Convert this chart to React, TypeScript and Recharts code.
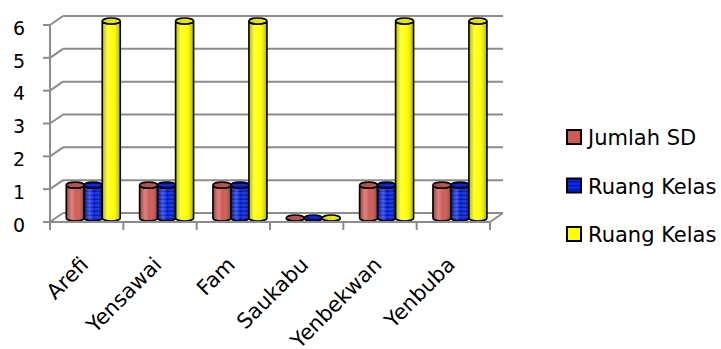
import { BarChart, Bar, XAxis, YAxis, CartesianGrid } from 'recharts';

const categories = ['Arefi', 'Yensawai', 'Fam', 'Saukabu', 'Yenbekwan', 'Yenbuba'];
const jumlahSD = [1, 1, 1, 0, 1, 1];
const ruangKelasA = [1, 1, 1, 0, 1, 1];
const ruangKelasB = [6, 6, 6, 0, 6, 6];
const yTicks = [0, 1, 2, 3, 4, 5, 6];

const seriesInfo = [
  { key: 'jumlahSD', name: 'Jumlah SD', fill: '#d05a55', legendFill: '#d05a55' },
  { key: 'ruangKelasA', name: 'Ruang Kelas', fill: 'url(#blueStripes)', legendFill: 'url(#blueStripesLegend)' },
  { key: 'ruangKelasB', name: 'Ruang Kelas', fill: '#ffff00', legendFill: '#ffff00' },
];

const data = categories.map((name, i) => ({
  name,
  jumlahSD: jumlahSD[i],
  ruangKelasA: ruangKelasA[i],
  ruangKelasB: ruangKelasB[i],
}));

// depth offset of the back wall
const DX = 13;
const DY = -9;
const GRID = '#8c8c8c';
const FONT = '"DejaVu Sans", "Open Sans", sans-serif';

const gridLine = (props: any) => {
  const { x1, y1, x2, y2 } = props;
  return (
    <g key={`g-${y1}`}>
      <line x1={x1} y1={y1} x2={x1 + DX} y2={y1 + DY} stroke={GRID} strokeWidth={2} />
      <line x1={x1 + DX} y1={y1 + DY} x2={x2 + DX} y2={y2 + DY} stroke={GRID} strokeWidth={2} />
    </g>
  );
};

const XTick = (props: any) => {
  const { x, y, payload, index } = props;
  const off = payload.offset || 0;
  const last = index === categories.length - 1;
  const tx = x + 3;
  const ty = y + 44;
  return (
    <g>
      <line x1={x - off} y1={y} x2={x - off} y2={y + 8} stroke={GRID} strokeWidth={2} />
      {last && (
        <>
          <line x1={x + off} y1={y} x2={x + off} y2={y + 8} stroke={GRID} strokeWidth={2} />
          <line x1={x + off} y1={y} x2={x + off + DX} y2={y + DY} stroke={GRID} strokeWidth={2} />
        </>
      )}
      <text
        x={tx}
        y={ty}
        transform={`rotate(-45, ${tx}, ${ty})`}
        textAnchor="end"
        fontSize={21}
        fontFamily={FONT}
        fill="#000"
      >
        {payload.value}
      </text>
    </g>
  );
};

const Cylinder = (props: any) => {
  const { x, y, width, height, fill } = props;
  if (x == null || y == null) return null;
  const sx = 6;
  const sy = -4;
  const left = x + sx;
  const right = x + width + sx;
  const top = y + sy;
  const bottom = y + height + sy;
  const rx = width / 2;
  const ry = 3;
  const cx = left + rx;
  const body = `M${left},${top} L${left},${bottom} A${rx},${ry} 0 0 0 ${right},${bottom} L${right},${top} A${rx},${ry} 0 0 1 ${left},${top} Z`;
  return (
    <g>
      <path d={body} fill={fill} stroke="none" />
      <path d={body} fill="url(#cylShade)" stroke="#000" strokeWidth={1.6} />
      <ellipse cx={cx} cy={top} rx={rx} ry={ry} fill={fill} stroke="#000" strokeWidth={1.6} />
      <ellipse cx={cx} cy={top} rx={rx} ry={ry} fill="url(#topShade)" stroke="none" />
    </g>
  );
};

const LegendBox = () => (
  <svg width={160} height={130} style={{ position: 'absolute', left: 563, top: 126 }}>
    <defs>
      <pattern id="blueStripesLegend" patternUnits="userSpaceOnUse" width={8} height={4}>
        <rect width={8} height={4} fill="#0a2cf5" />
        <rect y={2.5} width={8} height={1.5} fill="#00109a" />
      </pattern>
    </defs>
    {seriesInfo.map((s, i) => (
      <g key={i} transform={`translate(0, ${i * 48.5})`}>
        <rect x={4} y={4} width={14} height={14} fill={s.legendFill} stroke="#000" strokeWidth={2} />
        <text x={25} y={19} fontSize={21} fontFamily={FONT} fill="#000">
          {s.name}
        </text>
      </g>
    ))}
  </svg>
);

export default function App() {
  return (
    <div style={{ position: 'absolute', left: 0, top: 0, width: 721, height: 349, background: '#fff', overflow: 'hidden' }}>
      <BarChart
        width={721}
        height={349}
        data={data}
        margin={{ top: 25, right: 231, left: 0, bottom: 0 }}
        barCategoryGap="14%"
        barGap={0}
      >
        <defs>
          <pattern id="blueStripes" patternUnits="userSpaceOnUse" width={8} height={4}>
            <rect width={8} height={4} fill="#0a2cf5" />
            <rect y={2.5} width={8} height={1.5} fill="#00109a" />
          </pattern>
          <linearGradient id="cylShade" x1="0" y1="0" x2="1" y2="0">
            <stop offset="0%" stopColor="#000" stopOpacity={0.3} />
            <stop offset="30%" stopColor="#fff" stopOpacity={0.25} />
            <stop offset="55%" stopColor="#fff" stopOpacity={0} />
            <stop offset="100%" stopColor="#000" stopOpacity={0.35} />
          </linearGradient>
          <linearGradient id="topShade" x1="0" y1="0" x2="1" y2="0">
            <stop offset="0%" stopColor="#000" stopOpacity={0.15} />
            <stop offset="100%" stopColor="#000" stopOpacity={0.05} />
          </linearGradient>
        </defs>
        <CartesianGrid vertical={false} horizontal={gridLine} />
        <XAxis
          dataKey="name"
          height={127}
          interval={0}
          axisLine={{ stroke: GRID, strokeWidth: 2 }}
          tickLine={false}
          tickSize={0}
          tickMargin={0}
          tick={<XTick />}
        />
        <YAxis
          width={50}
          domain={[0, 6]}
          ticks={yTicks}
          interval={0}
          axisLine={{ stroke: GRID, strokeWidth: 2 }}
          tickLine={{ stroke: GRID, strokeWidth: 2 }}
          tickSize={7}
          tickMargin={18}
          tick={{ fill: '#000', fontSize: 19, fontFamily: FONT, dy: 3 }}
        />
        {seriesInfo.map((s) => (
          <Bar
            key={s.key}
            dataKey={s.key}
            name={s.name}
            fill={s.fill}
            isAnimationActive={false}
            shape={<Cylinder />}
          />
        ))}
      </BarChart>
      <LegendBox />
    </div>
  );
}
